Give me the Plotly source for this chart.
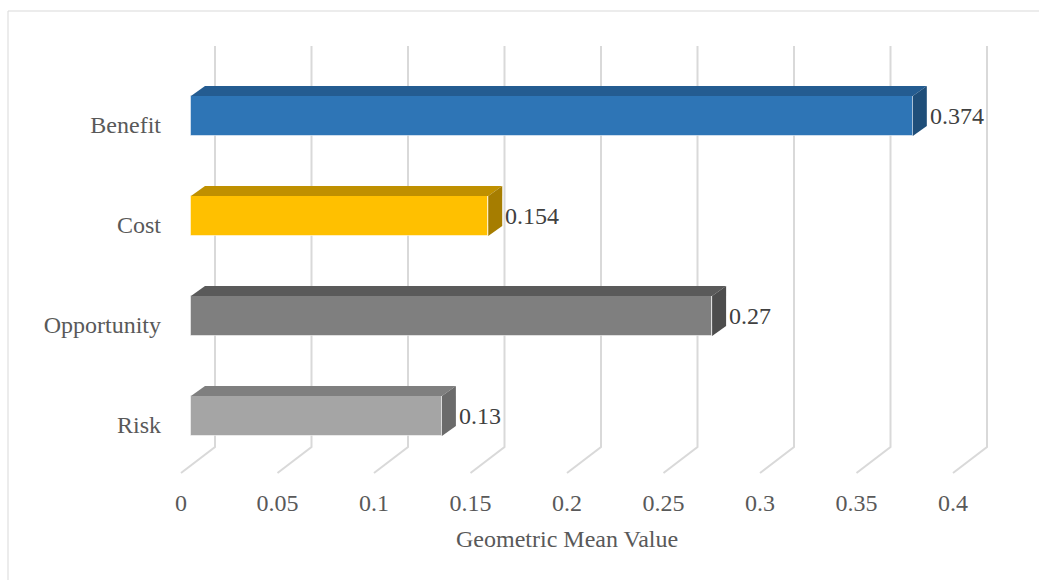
import plotly.graph_objects as go

# ---- data ----
categories = ["Benefit", "Cost", "Opportunity", "Risk"]
values = [0.374, 0.154, 0.27, 0.13]
value_labels = ["0.374", "0.154", "0.27", "0.13"]
tick_vals = [0, 0.05, 0.1, 0.15, 0.2, 0.25, 0.3, 0.35, 0.4]
tick_text = ["0", "0.05", "0.1", "0.15", "0.2", "0.25", "0.3", "0.35", "0.4"]
axis_title = "Geometric Mean Value"

# ---- style ----
front_colors = ["#2E75B6", "#FFC000", "#7F7F7F", "#A5A5A5"]
top_colors = ["#245C91", "#BF9000", "#5A5A5A", "#7F7F7F"]
side_colors = ["#1F4E79", "#A67D00", "#4D4D4D", "#6B6B6B"]
grid_color = "#D9D9D9"
text_color = "#595959"
FONT = "Liberation Serif"
FS = 24

W, H = 1039, 580
PX_PER_UNIT = 1930.0      # pixels per value unit
ORIGIN_PX = 191.0         # x pixel of value 0 on bar front plane
ROW_PX = 100.0            # pixels between categories
FIRST_ROW_PX = 116.0      # y pixel of first category centre
L, R, T, B = 172, 1000, 40, 482

def dx(px):
    return px / PX_PER_UNIT

def dy(px):
    return px / ROW_PX

x_range = [(L - ORIGIN_PX) / PX_PER_UNIT, (R - ORIGIN_PX) / PX_PER_UNIT]
y_range = [(B - FIRST_ROW_PX) / ROW_PX, (T - FIRST_ROW_PX) / ROW_PX]

BAR_W = 0.4
BAR_DX = dx(14)
BAR_DY = dy(10)
WALL_DX = dx(24)
FLOOR_DX = dx(-10)
WALL_TOP = (46 - FIRST_ROW_PX) / ROW_PX
FLOOR_BACK = (447 - FIRST_ROW_PX) / ROW_PX
FLOOR_FRONT = (473 - FIRST_ROW_PX) / ROW_PX

fig = go.Figure()

shapes = []
# gridlines: back wall + floor, drawn below the bars
for v in tick_vals:
    shapes.append(dict(type="path", xref="x", yref="y", layer="below",
                       path="M {a},{b} L {c},{d} L {e},{f}".format(
                           a=v + WALL_DX, b=WALL_TOP,
                           c=v + WALL_DX, d=FLOOR_BACK,
                           e=v + FLOOR_DX, f=FLOOR_FRONT),
                       line=dict(color=grid_color, width=2)))

idx = list(range(len(categories)))

# front faces
fig.add_trace(go.Bar(y=idx, x=values, orientation="h", width=BAR_W,
                     marker=dict(color=front_colors,
                                 line=dict(color="rgba(255,255,255,0.5)", width=1)),
                     showlegend=False, hoverinfo="x+text",
                     hovertext=categories))

# top and side faces
for i, v in enumerate(values):
    y_top = i - BAR_W / 2
    y_bot = i + BAR_W / 2
    fig.add_trace(go.Scatter(
        x=[0, v, v + BAR_DX, BAR_DX, 0],
        y=[y_top, y_top, y_top - BAR_DY, y_top - BAR_DY, y_top],
        fill="toself", fillcolor=top_colors[i], mode="lines",
        line=dict(width=0, color=top_colors[i]),
        hoverinfo="skip", showlegend=False))
    fig.add_trace(go.Scatter(
        x=[v, v + BAR_DX, v + BAR_DX, v, v],
        y=[y_top, y_top - BAR_DY, y_bot - BAR_DY, y_bot, y_top],
        fill="toself", fillcolor=side_colors[i], mode="lines",
        line=dict(width=0, color=side_colors[i]),
        hoverinfo="skip", showlegend=False))

annotations = []
for i, v in enumerate(values):
    annotations.append(dict(x=v + BAR_DX, y=i, xref="x", yref="y",
                            text=value_labels[i], showarrow=False,
                            xanchor="left", yanchor="middle", xshift=1,
                            font=dict(family=FONT, size=FS, color="#404040")))

annotations.append(dict(x=tick_vals[len(tick_vals) // 2], xref="x",
                        y=(B - 539) / (B - T), yref="paper",
                        text=axis_title, showarrow=False,
                        xanchor="center", yanchor="middle",
                        xshift=-10,
                        font=dict(family=FONT, size=FS, color=text_color)))

def px_to_paper_x(px):
    return (px - L) / (R - L)

def px_to_paper_y(py):
    return (B - py) / (B - T)

shapes.append(dict(type="rect", xref="paper", yref="paper",
                   x0=px_to_paper_x(8), x1=px_to_paper_x(W + 20),
                   y0=px_to_paper_y(H + 20), y1=px_to_paper_y(11),
                   line=dict(color=grid_color, width=1),
                   fillcolor="rgba(0,0,0,0)", layer="below"))

fig.update_layout(
    width=W, height=H,
    margin=dict(l=L, r=W - R, t=T, b=H - B),
    paper_bgcolor="white", plot_bgcolor="white",
    font=dict(family=FONT, size=FS, color=text_color),
    xaxis=dict(range=x_range, tickvals=tick_vals, ticktext=tick_text,
               showgrid=False, zeroline=False, showline=False, ticks="",
               ticklabelshift=-10, ticklabelstandoff=4, fixedrange=True),
    yaxis=dict(range=y_range, tickvals=idx, ticktext=categories,
               showgrid=False, zeroline=False, showline=False, ticks="",
               ticklabelshift=-9, ticklabelstandoff=10, fixedrange=True),
    annotations=annotations,
    shapes=shapes,
    bargap=0,
)

fig.write_html("out.html")
